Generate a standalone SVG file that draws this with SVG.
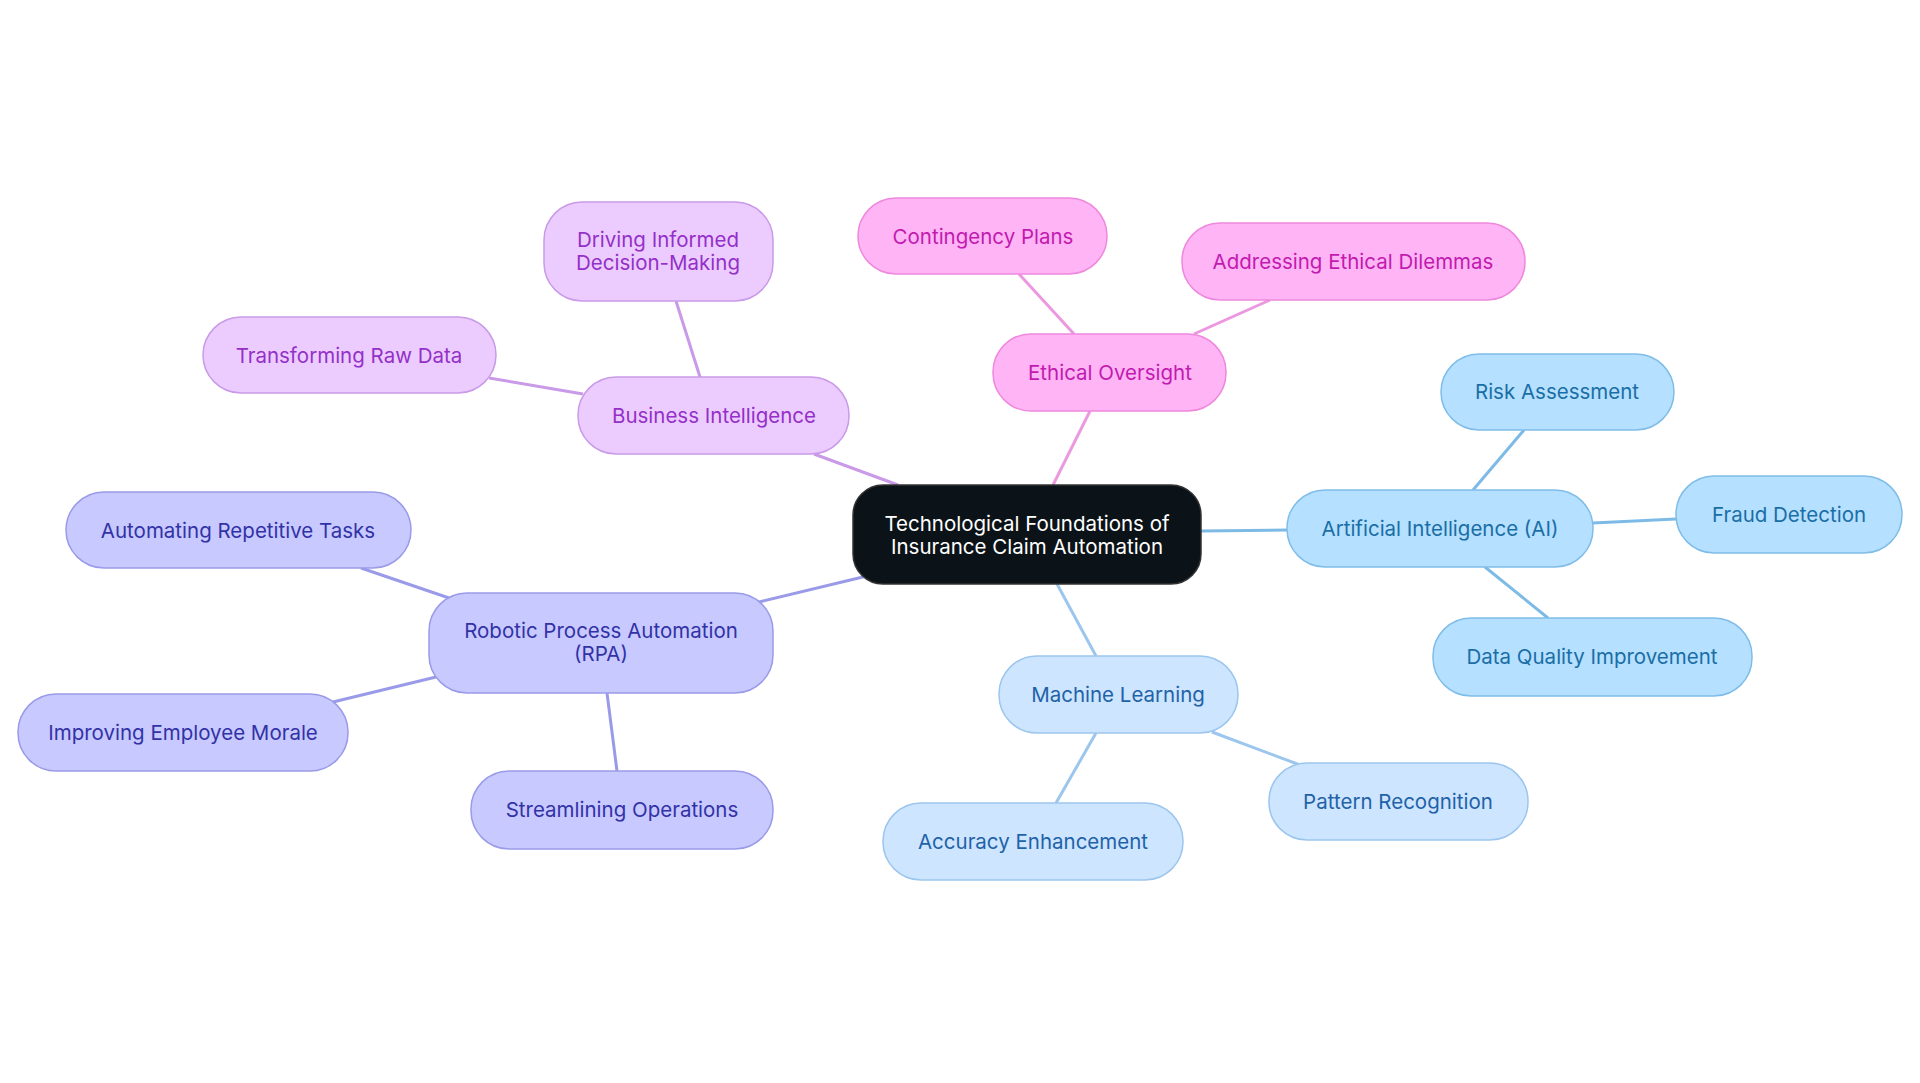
<svg xmlns="http://www.w3.org/2000/svg" width="1920" height="1083" viewBox="0 0 1920 1083">
<style>
text{font-family:Inter,"Noto Sans",sans-serif;font-size:20.5px;text-anchor:middle;dominant-baseline:central}
.bi rect{fill:#ecccff;stroke:#c99ae8;stroke-width:1.5}.bi text{fill:#9430c8}
.eo rect{fill:#ffb5f5;stroke:#ee88dd;stroke-width:1.5}.eo text{fill:#c21ab0}
.ai rect{fill:#b5e0ff;stroke:#7fbde8;stroke-width:1.5}.ai text{fill:#1a6ea6}
.ml rect{fill:#cde5ff;stroke:#9cc6ee;stroke-width:1.5}.ml text{fill:#1f62a8}
.rp rect{fill:#c8c9ff;stroke:#9a9be8;stroke-width:1.5}.rp text{fill:#3232a6}
.e{stroke-width:3;fill:none}
</style>
<rect width="1920" height="1083" fill="#fff"/>
<g id="connectors">
<g stroke="#c99ae8" class="e"><line x1="898" y1="485" x2="814" y2="454"/><line x1="700" y1="377" x2="676" y2="301"/><line x1="583" y1="394" x2="489" y2="378"/></g>
<g stroke="#ec98e0" class="e"><line x1="1053" y1="485" x2="1090" y2="411"/><line x1="1074" y1="334" x2="1019" y2="274"/><line x1="1194" y1="334" x2="1270" y2="300"/></g>
<g stroke="#7dbbe6" class="e"><line x1="1201" y1="531" x2="1287" y2="530"/><line x1="1473" y1="490" x2="1524" y2="430"/><line x1="1593" y1="523" x2="1676" y2="519"/><line x1="1485" y1="567" x2="1548" y2="618"/></g>
<g stroke="#9cc6ee" class="e"><line x1="1057" y1="584" x2="1096" y2="656"/><line x1="1212" y1="732" x2="1300" y2="765"/><line x1="1096" y1="733" x2="1056" y2="803"/></g>
<g stroke="#9a9be8" class="e"><line x1="867" y1="576" x2="759" y2="602"/><line x1="452" y1="599" x2="361" y2="568"/><line x1="436" y1="677" x2="333" y2="702"/><line x1="607" y1="693" x2="617" y2="771"/></g>
</g>
<g id="center"><rect x="853" y="485" width="348" height="99" rx="30" fill="#0c1318" stroke="#333" stroke-width="1.5"/><text x="1027" y="523" fill="#fff">Technological Foundations of</text><text x="1027" y="546" fill="#fff">Insurance Claim Automation</text></g>
<g id="bi" class="bi"><rect x="578" y="377" width="271" height="77" rx="38"/><text x="714" y="415">Business Intelligence</text></g>
<g id="driving" class="bi"><rect x="544" y="202" width="229" height="99" rx="38"/><text x="658" y="239">Driving Informed</text><text x="658" y="262">Decision-Making</text></g>
<g id="transforming" class="bi"><rect x="203" y="317" width="293" height="76" rx="38"/><text x="349" y="355">Transforming Raw Data</text></g>
<g id="ethical" class="eo"><rect x="993" y="334" width="233" height="77" rx="38"/><text x="1110" y="372">Ethical Oversight</text></g>
<g id="contingency" class="eo"><rect x="858" y="198" width="249" height="76" rx="38"/><text x="983" y="236">Contingency Plans</text></g>
<g id="addressing" class="eo"><rect x="1182" y="223" width="343" height="77" rx="38"/><text x="1353" y="261">Addressing Ethical Dilemmas</text></g>
<g id="ai" class="ai"><rect x="1287" y="490" width="306" height="77" rx="38"/><text x="1440" y="528">Artificial Intelligence (AI)</text></g>
<g id="risk" class="ai"><rect x="1441" y="354" width="233" height="76" rx="38"/><text x="1557" y="391">Risk Assessment</text></g>
<g id="fraud" class="ai"><rect x="1676" y="476" width="226" height="77" rx="38"/><text x="1789" y="514">Fraud Detection</text></g>
<g id="dq" class="ai"><rect x="1433" y="618" width="319" height="78" rx="38"/><text x="1592" y="656">Data Quality Improvement</text></g>
<g id="ml" class="ml"><rect x="999" y="656" width="239" height="77" rx="38"/><text x="1118" y="694">Machine Learning</text></g>
<g id="pattern" class="ml"><rect x="1269" y="763" width="259" height="77" rx="38"/><text x="1398" y="801">Pattern Recognition</text></g>
<g id="accuracy" class="ml"><rect x="883" y="803" width="300" height="77" rx="38"/><text x="1033" y="841">Accuracy Enhancement</text></g>
<g id="rpa" class="rp"><rect x="429" y="593" width="344" height="100" rx="38"/><text x="601" y="630">Robotic Process Automation</text><text x="601" y="653">(RPA)</text></g>
<g id="automating" class="rp"><rect x="66" y="492" width="345" height="76" rx="38"/><text x="238" y="530">Automating Repetitive Tasks</text></g>
<g id="improving" class="rp"><rect x="18" y="694" width="330" height="77" rx="38"/><text x="183" y="732">Improving Employee Morale</text></g>
<g id="streamlining" class="rp"><rect x="471" y="771" width="302" height="78" rx="38"/><text x="622" y="809">Streamlining Operations</text></g>
</svg>
